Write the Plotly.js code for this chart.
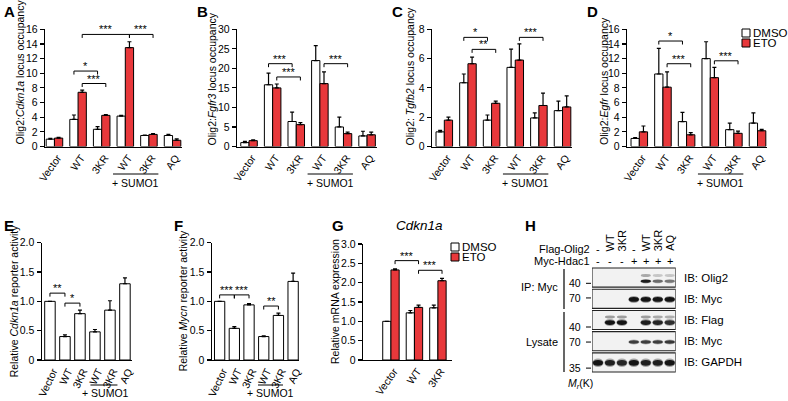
<!DOCTYPE html>
<html><head><meta charset="utf-8">
<script src="https://cdn.plot.ly/plotly-3.0.1.min.js"></script>
<style>html,body{margin:0;padding:0;background:#fff}#chart{width:788px;height:401px}</style>
</head><body><div id="chart"></div>
<script>
// ================= DATA =================
const groupCats = ['Vector','WT','3KR','WT','3KR','AQ'];
const cdknCats = ['Vector','WT','3KR'];
const seriesNames = ['DMSO','ETO'];

// A  Olig2:Cdkn1a ChIP
const chipA_dmso = [1.0, 3.7, 2.35, 4.15, 1.5, 1.5];
const chipA_dmsoErr = [0.1, 0.6, 0.35, 0.1, 0.05, 0.15];
const chipA_eto = [1.15, 7.4, 4.25, 13.5, 1.65, 0.85];
const chipA_etoErr = [0.1, 0.3, 0.1, 0.8, 0.1, 0.2];
// B  Olig2:Fgfr3
const chipB_dmso = [1.0, 15.8, 6.4, 22.0, 5.0, 2.7];
const chipB_dmsoErr = [0.3, 3.0, 2.4, 3.8, 2.5, 1.2];
const chipB_eto = [1.5, 15.0, 5.6, 16.1, 3.3, 3.0];
const chipB_etoErr = [0.2, 1.0, 0.5, 3.0, 0.4, 0.7];
// C  Olig2:Tgfb2
const chipC_dmso = [1.0, 4.35, 1.8, 5.4, 1.95, 2.45];
const chipC_dmsoErr = [0.1, 0.6, 0.35, 1.25, 0.35, 0.65];
const chipC_eto = [1.8, 5.65, 2.95, 5.9, 2.8, 2.7];
const chipC_etoErr = [0.2, 0.45, 0.15, 1.1, 0.85, 0.75];
// D  Olig2:Egfr
const chipD_dmso = [1.1, 9.9, 3.4, 12.0, 2.3, 3.2];
const chipD_dmsoErr = [0.1, 3.5, 1.25, 2.3, 0.9, 1.4];
const chipD_eto = [2.0, 8.1, 1.6, 9.4, 1.8, 2.15];
const chipD_etoErr = [0.8, 2.1, 0.3, 1.4, 0.3, 0.2];
// E  Cdkn1a reporter
const repE = [1.0, 0.4, 0.79, 0.48, 0.85, 1.3];
const repEErr = [0.0, 0.03, 0.06, 0.04, 0.16, 0.1];
// F  Mycn reporter
const repF = [1.0, 0.54, 0.94, 0.4, 0.76, 1.34];
const repFErr = [0.0, 0.03, 0.02, 0.01, 0.04, 0.14];
// G  Cdkn1a mRNA
const mrna_dmso = [1.0, 1.22, 1.35];
const mrna_dmsoErr = [0.0, 0.06, 0.07];
const mrna_eto = [2.33, 1.36, 2.05];
const mrna_etoErr = [0.03, 0.06, 0.06];

// significance brackets: [fromCat, fromSeries, toCat, toSeries, level, label]
const sigA = [[1,0,2,0,10.3,'*'],[1,1,2,1,8.6,'***'],[1,1,3,1,15.3,'***'],[3,1,4,1,15.3,'***']];
const sigB = [[1,0,2,0,21.2,'***'],[1,1,2,1,17.8,'***'],[3,1,4,1,21.2,'***']];
const sigC = [[1,0,2,0,7.45,'*'],[1,1,2,1,6.63,'**'],[3,1,4,1,7.45,'***']];
const sigD = [[1,0,2,0,14.4,'*'],[1,1,2,1,11.3,'***'],[3,1,4,1,11.7,'***']];
const sigE = [[0,null,1,null,1.14,'**'],[1,null,2,null,0.97,'*']];
const sigF = [[0,null,1,null,1.11,'***'],[1,null,2,null,1.11,'***'],[3,null,4,null,0.92,'**']];
const sigG = [[0,1,1,1,2.57,'***'],[1,1,2,1,2.32,'***']];

// y tick values / labels
const ticksA = [0,2,4,6,8,10,12,14,16];
const ticksB = [0,5,10,15,20,25,30];
const ticksC = [0,2,4,6,8];
const ticksD = [0,2,4,6,8,10,12,14,16];
const ticksEF = [0,0.5,1,1.5,2];
const ticksEFText = ['0','0.5','1.0','1.5','2.0'];
const ticksG = [0,0.5,1,1.5,2,2.5,3];
const ticksGText = ['0','0.5','1.0','1.5','2.0','2.5','3.0'];

// H  co-IP western blot
const laneFlagOlig2 = ['-','WT','3KR','-','WT','3KR','AQ'];
const laneMycHdac1 = ['-','-','-','+','+','+','+'];
const blotIB = ['IB: Olig2','IB: Myc','IB: Flag','IB: Myc','IB: GAPDH'];
const blotMr = ['40','70','40','70','35'];
const bandMain = [
  [0,0,0,0,0.9,0.5,0.45],
  [0,0,0,0.95,0.95,0.95,0.97],
  [0,0.95,0.95,0,0.9,0.85,0.8],
  [0,0,0,0.72,0.72,0.72,0.75],
  [0.95,0.88,0.85,0.95,0.88,0.88,0.95]];
const bandUpper = [
  [0,0,0,0,0.3,0.18,0.18],
  [0,0,0,0,0,0,0],
  [0,0.35,0.35,0,0.35,0.3,0.28],
  [0,0,0,0,0,0,0],
  [0,0,0,0,0,0,0]];

// ================= DRAWING =================
const W = 788, H = 401;
const px = x => x / W, py = y => 1 - y / H;
const FONT = 'Liberation Sans, Arial, Helvetica, sans-serif';
const RED = '#e8383b';
const FS = 10.5;
const data = [], shapes = [], annotations = [];
const layout = {
  width: W, height: H, margin: {l:0, r:0, t:0, b:0},
  paper_bgcolor: '#fff', plot_bgcolor: 'rgba(0,0,0,0)', showlegend: false,
  barmode: 'group', bargap: 0.3, bargroupgap: 0,
  font: {family: FONT, size: FS, color: '#000'}
};

const panels = [
  {n:1, letter:'A', L:[2,1], x:[45,182], y:[29.3,146.5], xr:[-0.4,5.4], yr:[0,16], tv:ticksA, tt:ticksA.map(String),
   cats:groupCats, series:[[chipA_dmso,chipA_dmsoErr],[chipA_eto,chipA_etoErr]], sig:sigA,
   title:'Olig2:<i>Cdkn1a</i> locus occupancy', tx:20, tmode:'bottom', ang:-55, sumo:[2.48,4.4,3.44,174,183]},
  {n:2, letter:'B', L:[195,1], x:[237,377], y:[29.3,146.5], xr:[-0.51,5.42], yr:[0,30], tv:ticksB, tt:ticksB.map(String),
   cats:groupCats, series:[[chipB_dmso,chipB_dmsoErr],[chipB_eto,chipB_etoErr]], sig:sigB,
   title:'Olig2:<i>Fgfr3</i> locus occupancy', tx:212, tmode:'bottom', ang:-55, sumo:[2.48,4.4,3.44,174,183]},
  {n:3, letter:'C', L:[390,1], x:[432,572], y:[29.3,146.5], xr:[-0.52,5.4], yr:[0,8], tv:ticksC, tt:ticksC.map(String),
   cats:groupCats, series:[[chipC_dmso,chipC_dmsoErr],[chipC_eto,chipC_etoErr]], sig:sigC,
   title:'Olig2: <i>Tgfb2</i> locus occupancy', tx:410, tmode:'bottom', ang:-55, sumo:[2.48,4.4,3.44,174,183]},
  {n:4, letter:'D', L:[585,1], x:[627,767], y:[29.3,146.5], xr:[-0.52,5.4], yr:[0,16], tv:ticksD, tt:ticksD.map(String),
   cats:groupCats, series:[[chipD_dmso,chipD_dmsoErr],[chipD_eto,chipD_etoErr]], sig:sigD,
   title:'Olig2:<i>Egfr</i> locus occupancy', tx:604, tmode:'bottom', ang:-55, sumo:[2.48,4.4,3.44,174,183]},
  {n:5, letter:'E', L:[2,215], x:[41.7,131.7], y:[242.7,360], xr:[-0.55,5.45], yr:[0,2], tv:ticksEF, tt:ticksEFText,
   cats:groupCats, series:[[repE,repEErr]], sig:sigE,
   title:'Relative <i>Cdkn1a</i> reporter activity', tx:14, tmode:'center', ang:-65, sumo:[2.7,4.5,3.7,385,393]},
  {n:6, letter:'F', L:[172,215], x:[211.7,299], y:[242.7,360], xr:[-0.54,5.4], yr:[0,2], tv:ticksEF, tt:ticksEFText,
   cats:groupCats, series:[[repF,repFErr]], sig:sigF,
   title:'Relative <i>Mycn</i> reporter activity', tx:183, tmode:'center', ang:-65, sumo:[2.61,4.31,3.45,385,393]},
  {n:7, letter:'G', L:[330,215], x:[363,452], y:[244,360], xr:[-1.19,2.6], yr:[0,3], tv:ticksG, tt:ticksGText,
   cats:cdknCats, series:[[mrna_dmso,mrna_dmsoErr],[mrna_eto,mrna_etoErr]], sig:sigG,
   title:'Relative mRNA expression', tx:335, tmode:'center', ang:-55, sumo:null}
];

panels.forEach(p => {
  const s = p.n === 1 ? '' : String(p.n);
  const xa = 'x' + s, ya = 'y' + s;
  layout['xaxis' + s] = {
    domain:[px(p.x[0]), px(p.x[1])], anchor: ya, range: p.xr, fixedrange:true,
    showline:true, linecolor:'#000', linewidth:1.2, ticks:'', showgrid:false, zeroline:false,
    tickmode:'array', tickvals: p.cats.map((_, i) => i), ticktext: p.cats,
    tickangle: p.ang, tickfont:{size:FS, family:FONT}, automargin:false, ticklabelshift: 3
  };
  layout['yaxis' + s] = {
    domain:[py(p.y[1]), py(p.y[0])], anchor: xa, range: p.yr, fixedrange:true,
    showline:true, linecolor:'#000', linewidth:1.2, ticks:'outside', ticklen:4, tickwidth:1.1, tickcolor:'#000',
    showgrid:false, zeroline:false, tickmode:'array', tickvals:p.tv, ticktext:p.tt,
    tickfont:{size:FS, family:FONT}, automargin:false
  };
  const nS = p.series.length;
  p.series.forEach((sr, k) => {
    data.push({
      type:'bar', name: seriesNames[k], x: p.cats.map((_, i) => i), y: sr[0], xaxis: xa, yaxis: ya,
      offsetgroup: String(k),
      marker:{color: k === 0 ? '#ffffff' : RED, line:{color:'#000', width:1}},
      error_y:{type:'data', symmetric:false, array: sr[1], arrayminus: sr[1].map(() => 0),
               color:'#000', thickness:1.2, width:2},
      hoverinfo:'skip'
    });
  });
  // brackets
  const perPx = (p.yr[1] - p.yr[0]) / (p.y[1] - p.y[0]);
  const tick = 3.5 * perPx;
  const off = k => (nS === 2 ? (k === 0 ? -0.175 : 0.175) : 0);
  p.sig.forEach(b => {
    const x0 = b[0] + off(b[1]), x1 = b[2] + off(b[3]), lv = b[4];
    shapes.push({type:'path', xref:xa, yref:ya,
      path:`M ${x0},${lv - tick} L ${x0},${lv} L ${x1},${lv} L ${x1},${lv - tick}`,
      line:{color:'#000', width:1}});
    annotations.push({xref:xa, yref:ya, x:(x0 + x1) / 2, y:lv, text:b[5], showarrow:false,
      yanchor:'bottom', xanchor:'center', yshift:-3, font:{size:11, family:FONT}});
  });
  // y title
  const ty = p.tmode === 'bottom' ? py(147) : py((p.y[0] + p.y[1]) / 2);
  annotations.push({xref:'paper', yref:'paper', x:px(p.tx), y:ty, text:p.title, textangle:-90,
    showarrow:false, xanchor:'center', yanchor: p.tmode === 'bottom' ? 'bottom' : 'middle',
    font:{size:FS, family:FONT}});
  // panel letter
  annotations.push({xref:'paper', yref:'paper', x:px(p.L[0]), y:py(p.L[1]), text:'<b>' + p.letter + '</b>',
    showarrow:false, xanchor:'left', yanchor:'top', font:{size:15, family:FONT}});
  // + SUMO1
  if (p.sumo) {
    shapes.push({type:'line', xref:xa, yref:'paper', x0:p.sumo[0], x1:p.sumo[1], y0:py(p.sumo[3]), y1:py(p.sumo[3]),
      line:{color:'#000', width:1}});
    annotations.push({xref:xa, yref:'paper', x:p.sumo[2], y:py(p.sumo[4]), text:'+ SUMO1', showarrow:false,
      xanchor:'center', yanchor:'middle', font:{size:FS, family:FONT}});
  }
});

// G title
annotations.push({xref:'paper', yref:'paper', x:px(419), y:py(225), text:'<i>Cdkn1a</i>', showarrow:false,
  xanchor:'center', yanchor:'middle', font:{size:13.5, family:FONT}});

// manual legends (D and G)
function legend(x, yTop) {
  seriesNames.forEach((nm, k) => {
    const y0 = yTop + k * 10;
    shapes.push({type:'rect', xref:'paper', yref:'paper', x0:px(x), x1:px(x + 8), y0:py(y0 + 8), y1:py(y0),
      fillcolor: k === 0 ? '#fff' : RED, line:{color:'#000', width:1}});
    annotations.push({xref:'paper', yref:'paper', x:px(x + 9.5), y:py(y0 + 4), text:nm, showarrow:false,
      xanchor:'left', yanchor:'middle', borderpad:0, font:{size:11.5, family:FONT}});
  });
}
legend(742, 29);
legend(451, 243);

// ---------- H blot ----------
layout.xaxis8 = {domain:[px(592), px(675.7)], range:[0.5, 7.5], visible:false, fixedrange:true, anchor:'y8'};
layout.yaxis8 = {domain:[py(373), py(267)], range:[4.5, -0.5], visible:false, fixedrange:true, anchor:'x8'};
const mainOff = [0.17, 0.03, 0.12, 0.04, 0.02];
const upOff = [-0.1, 0, -0.14, 0, 0];
const bandH = [0.14, 0.22, 0.22, 0.16, 0.27];
const mrOff = [0.27, -0.04, 0.33, 0.04, 0.27];
blotIB.forEach((lab, r) => {
  shapes.push({type:'rect', xref:'x8', yref:'y8', x0:0.5, x1:7.5, y0:r - 0.45, y1:r + 0.45,
    fillcolor:'#f2f2f2', line:{color:'#222', width:1.1}});
  for (let l = 0; l < 7; l++) {
    const lane = l + 1;
    const a = bandMain[r][l];
    if (a > 0) {
      const c = r + mainOff[r], h = bandH[r];
      shapes.push({type:'circle', xref:'x8', yref:'y8', x0:lane - 0.47, x1:lane + 0.47, y0:c - h * 0.75, y1:c + h * 0.75,
        fillcolor:`rgba(0,0,0,${(a * 0.35).toFixed(3)})`, line:{width:0}});
      shapes.push({type:'circle', xref:'x8', yref:'y8', x0:lane - 0.42, x1:lane + 0.42, y0:c - h / 2, y1:c + h / 2,
        fillcolor:`rgba(0,0,0,${(a * 0.92).toFixed(3)})`, line:{width:0}});
    }
    const u = bandUpper[r][l];
    if (u > 0) {
      const c = r + upOff[r];
      shapes.push({type:'circle', xref:'x8', yref:'y8', x0:lane - 0.42, x1:lane + 0.42, y0:c - 0.07, y1:c + 0.07,
        fillcolor:`rgba(0,0,0,${u.toFixed(3)})`, line:{width:0}});
    }
  }
  annotations.push({xref:'x8', yref:'y8', x:7.5, y:r, xshift:6, text:lab, showarrow:false,
    xanchor:'left', yanchor:'middle', font:{size:11.5, family:FONT}});
  annotations.push({xref:'x8', yref:'y8', x:0.5, y:r + mrOff[r], xshift:-9, text:blotMr[r], showarrow:false,
    xanchor:'right', yanchor:'middle', font:{size:FS, family:FONT}});
  shapes.push({type:'line', xref:'paper', yref:'y8', x0:px(586), x1:px(591), y0:r + mrOff[r], y1:r + mrOff[r],
    line:{color:'#000', width:1}});
});
laneFlagOlig2.forEach((t, l) => {
  const vert = t !== '-';
  annotations.push({xref:'x8', yref:'paper', x:l + 1, y: vert ? py(253) : py(249), text:t, showarrow:false,
    textangle: vert ? -90 : 0, xanchor:'center', yanchor: vert ? 'bottom' : 'middle', font:{size:11, family:FONT}});
});
laneMycHdac1.forEach((t, l) => {
  annotations.push({xref:'x8', yref:'paper', x:l + 1, y:py(261), text:t, showarrow:false,
    xanchor:'center', yanchor:'middle', font:{size:11, family:FONT}});
});
annotations.push({xref:'paper', yref:'paper', x:px(592), y:py(249), text:'Flag-Olig2', showarrow:false,
  xanchor:'right', yanchor:'middle', font:{size:11, family:FONT}});
annotations.push({xref:'paper', yref:'paper', x:px(592), y:py(261), text:'Myc-Hdac1', showarrow:false,
  xanchor:'right', yanchor:'middle', font:{size:11, family:FONT}});
annotations.push({xref:'paper', yref:'paper', x:px(560), y:py(287), text:'IP: Myc', showarrow:false,
  xanchor:'right', yanchor:'middle', font:{size:11, family:FONT}});
annotations.push({xref:'paper', yref:'paper', x:px(560), y:py(342), text:'Lysate', showarrow:false,
  xanchor:'right', yanchor:'middle', font:{size:11, family:FONT}});
shapes.push({type:'line', xref:'paper', yref:'paper', x0:px(564), x1:px(564), y0:py(269), y1:py(309), line:{color:'#000', width:1.2}});
shapes.push({type:'line', xref:'paper', yref:'paper', x0:px(564), x1:px(564), y0:py(312), y1:py(372), line:{color:'#000', width:1.2}});
annotations.push({xref:'paper', yref:'paper', x:px(580), y:py(384), text:'<i>M</i><sub><i>r</i></sub>(K)', showarrow:false,
  xanchor:'center', yanchor:'middle', font:{size:10.5, family:FONT}});
annotations.push({xref:'paper', yref:'paper', x:px(523), y:py(215), text:'<b>H</b>', showarrow:false,
  xanchor:'left', yanchor:'top', font:{size:15, family:FONT}});

layout.shapes = shapes;
layout.annotations = annotations;
Plotly.newPlot('chart', data, layout, {staticPlot:true, displayModeBar:false});
</script></body></html>
